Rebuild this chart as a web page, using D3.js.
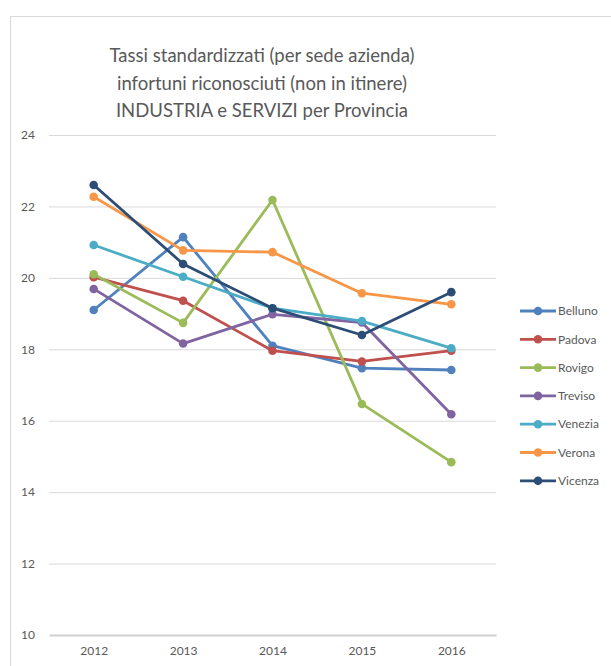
<!DOCTYPE html>
<html><head><meta charset="utf-8">
<script src="https://cdn.jsdelivr.net/npm/d3@7"></script>
<style>body{margin:0;background:#fff;}svg{display:block;font-family:Lato,"Open Sans",sans-serif;}</style>
</head><body>
<svg id="c" width="611" height="666"></svg>
<script>
const years = ["2012","2013","2014","2015","2016"];
const provinces = ["Belluno","Padova","Rovigo","Treviso","Venezia","Verona","Vicenza"];
const belluno = [19.1, 21.14, 18.1, 17.47, 17.42];
const padova  = [20.02, 19.36, 17.96, 17.66, 17.96];
const rovigo  = [20.1, 18.74, 22.18, 16.47, 14.84];
const treviso = [19.69, 18.16, 18.98, 18.75, 16.18];
const venezia = [20.92, 20.03, 19.15, 18.79, 18.03];
const verona  = [22.27, 20.77, 20.72, 19.57, 19.26];
const vicenza = [22.6, 20.39, 19.15, 18.4, 19.6];
const yTicks = [10,12,14,16,18,20,22,24];
const titleLines = ["Tassi standardizzati (per sede azienda)","infortuni riconosciuti (non in itinere)","INDUSTRIA e SERVIZI per Provincia"];
const colors = ["#4F81BD","#C0504D","#9BBB59","#8064A2","#4BACC6","#F79646","#2C4D75"];

const seriesValues = [belluno,padova,rovigo,treviso,venezia,verona,vicenza];
const series = provinces.map((p,i)=>({name:p,color:colors[i],values:seriesValues[i]}));

const svg = d3.select("#c");
const text = "#595959", grid = "#d9d9d9";

// chart frame
svg.append("line").attr("x1",10).attr("x2",611).attr("y1",16.5).attr("y2",16.5).attr("stroke",grid);
svg.append("line").attr("x1",10.5).attr("x2",10.5).attr("y1",16).attr("y2",666).attr("stroke",grid);

// title
const title = svg.append("text").attr("text-anchor","middle").attr("fill",text).attr("font-size",19);
titleLines.forEach((t,i)=>{
  title.append("tspan").attr("x",262).attr("y",62+i*27.5).text(t);
});
// fit the first line width to reference (~305px)
const w0 = title.select("tspan").node().getComputedTextLength();
if (w0>0) title.attr("font-size", 19*305/w0);

const x = d3.scalePoint().domain(years).range([49,496]).padding(0.5);
const y = d3.scaleLinear().domain([10,24]).range([635,135]);

// gridlines
svg.append("g").selectAll("line").data(yTicks.filter(d=>d>10)).join("line")
  .attr("x1",49).attr("x2",496).attr("y1",d=>y(d)+0.5).attr("y2",d=>y(d)+0.5)
  .attr("stroke",grid).attr("stroke-width",1);
// y labels
const yAxis = svg.append("g").attr("transform","translate(49,0)")
  .call(d3.axisLeft(y).tickValues(yTicks).tickSize(0).tickPadding(14));
yAxis.select(".domain").remove();
yAxis.selectAll("text").attr("fill",text).attr("font-size",12).attr("font-family","Lato,'Open Sans',sans-serif");

// x axis
const xAxis = svg.append("g").attr("transform","translate(0,635)")
  .call(d3.axisBottom(x).tickSize(0).tickPadding(11));
xAxis.select(".domain").attr("stroke","#d0d0d0").attr("stroke-width",2);
xAxis.selectAll("text").attr("fill",text).attr("font-size",12).attr("font-family","Lato,'Open Sans',sans-serif");

// lines
const line = d3.line().x((d,i)=>x(years[i])).y(d=>y(d));
const g = svg.append("g");
series.forEach(s=>{
  g.append("path").attr("d",line(s.values)).attr("fill","none")
    .attr("stroke",s.color).attr("stroke-width",2.8).attr("stroke-linejoin","round").attr("stroke-linecap","round");
  g.selectAll(null).data(s.values).join("circle")
    .attr("cx",(d,i)=>x(years[i])).attr("cy",d=>y(d)).attr("r",4.3).attr("fill",s.color);
});

// legend
const lg = svg.append("g").attr("transform","translate(520,311)");
series.forEach((s,i)=>{
  const r = lg.append("g").attr("transform",`translate(0,${i*28.3})`);
  r.append("line").attr("x1",0).attr("x2",36).attr("stroke",s.color).attr("stroke-width",2.8);
  r.append("circle").attr("cx",18).attr("r",4.3).attr("fill",s.color);
  r.append("text").attr("x",38).attr("dy","0.35em").attr("fill",text).attr("font-size",12).text(s.name);
});
</script>
</body></html>
